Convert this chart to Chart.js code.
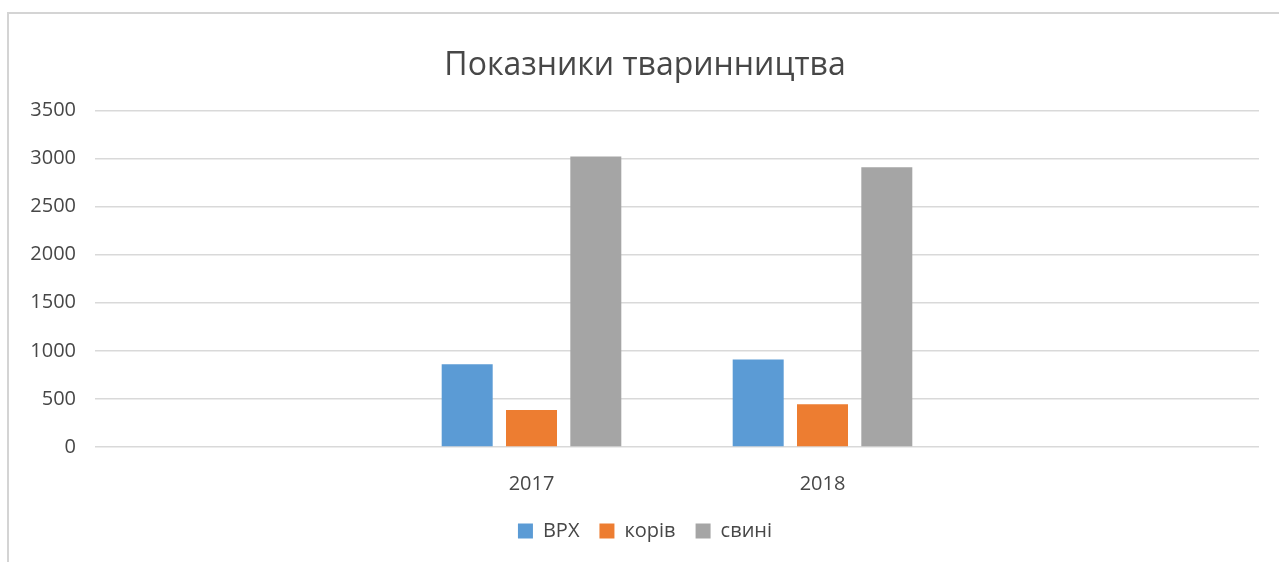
<!DOCTYPE html>
<html>
<head>
<meta charset="utf-8">
<script src="https://cdn.jsdelivr.net/npm/chart.js@4/dist/chart.umd.min.js"></script>
<style>
    html, body { margin: 0; padding: 0; background: #fff; }
    #wrap { position: relative; width: 1279px; height: 562px; overflow: hidden; }
    #frame {
        position: absolute; left: 7px; top: 12px; width: 1300px; height: 600px;
        border-left: 2px solid #d4d4d4; border-top: 2px solid #d4d4d4;
    }
    canvas { position: absolute; left: 0; top: 0; }
</style>
</head>
<body>
<div id="wrap">
    <div id="frame"></div>
    <canvas id="chart" width="1279" height="562"></canvas>
</div>
<script>
// Data
const categories = ['', '2017', '2018', ''];
const vrx = [null, 860, 910, null];
const koriv = [null, 385, 445, null];
const svyni = [null, 3020, 2910, null];
const yTicks = [0, 500, 1000, 1500, 2000, 2500, 3000, 3500];

const textColor = '#474747';
const fontFamily = "'Open Sans', 'Noto Sans', sans-serif";

const chartCanvas = document.getElementById('chart');

new Chart(chartCanvas, {
    type: 'bar',
    data: {
        labels: categories,
        datasets: [
            { label: 'ВРХ', data: vrx, backgroundColor: '#5B9BD5' },
            { label: 'корів', data: koriv, backgroundColor: '#ED7D31' },
            { label: 'свині', data: svyni, backgroundColor: '#A5A5A5' }
        ]
    },
    options: {
        responsive: false,
        animation: false,
        categoryPercentage: 0.663,
        barPercentage: 0.793,
        layout: {
            padding: { left: 31, right: 20, top: 13, bottom: 11 }
        },
        scales: {
            x: {
                afterFit: (scale) => {
                    scale.height = 54; // keep plot bottom where the reference has it
                },
                grid: { display: false },
                border: { display: false },
                ticks: {
                    color: textColor,
                    padding: 17,
                    font: { family: fontFamily, size: 20 }
                }
            },
            y: {
                min: yTicks[0],
                max: yTicks[yTicks.length - 1],
                afterBuildTicks: (scale) => {
                    scale.ticks = yTicks.map(v => ({ value: v }));
                },
                afterFit: (scale) => {
                    scale.width = 64;
                },
                grid: { color: '#d9d9d9', lineWidth: 1.5, drawTicks: false },
                border: { display: false },
                ticks: {
                    color: textColor,
                    padding: 19,
                    font: { family: fontFamily, size: 20 },
                    callback: (v) => String(v)
                }
            }
        },
        plugins: {
            title: {
                display: true,
                text: 'Показники тваринництва',
                color: textColor,
                font: { family: fontFamily, size: 32, weight: 'normal' },
                padding: { top: 34, bottom: 25 }
            },
            legend: {
                position: 'bottom',
                labels: {
                    color: textColor,
                    boxWidth: 15,
                    boxHeight: 15,
                    padding: 20,
                    font: { family: fontFamily, size: 20 }
                }
            },
            tooltip: { enabled: false }
        }
    }
});
</script>
</body>
</html>
